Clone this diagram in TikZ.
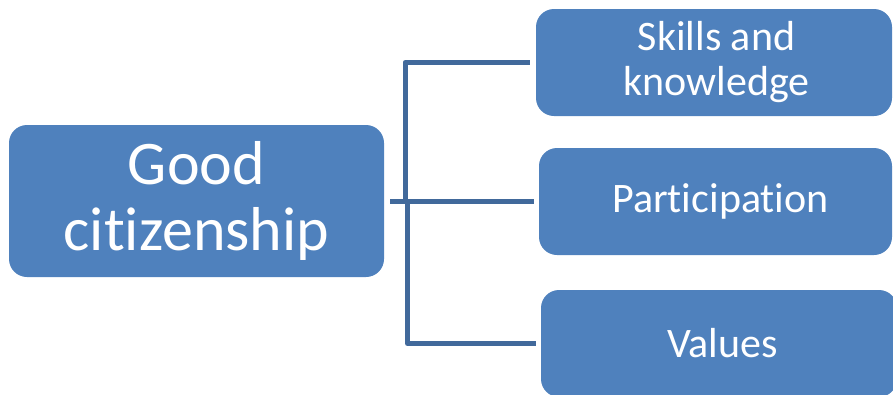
\documentclass[tikz,border=0pt]{standalone}
\usepackage{fontspec}
\setmainfont[RawFeature={-liga;-dlig;-calt}]{Carlito}
\definecolor{boxblue}{HTML}{4F81BD}
\definecolor{lineblue}{HTML}{41699B}
\begin{document}
\begin{tikzpicture}[x=1pt,y=-1pt,
  box/.style={fill=boxblue, rounded corners=18pt, inner sep=0pt, text=white, align=center},
  small/.style={font=\fontsize{42}{45}\selectfont},
  conn/.style={draw=lineblue, line width=5pt, line join=round}]
\useasboundingbox (0,0) rectangle (893,394);
\begin{scope}
\clip (0,0) rectangle (893,394);
\node[box, minimum width=375pt, minimum height=152pt, font=\fontsize{62}{66}\selectfont] (good) at (196.5,201) {Good\\citizenship};
\node[box, minimum width=356pt, minimum height=107pt, label={[small, text=white, align=center, xshift=2.5pt]center:Skills and\\knowledge}] (skills) at (714,62.5) {};
\node[box, minimum width=353pt, minimum height=107pt, label={[small, text=white, xshift=5pt]center:Participation}] (part) at (715.5,201.5) {};
\node[box, minimum width=356pt, minimum height=107pt, label={[small, text=white, xshift=3.5pt]center:Values}] (values) at (719,343.5) {};
\end{scope}
\coordinate (ju) at (405,201);
\coordinate (jl) at (407.5,201);
\draw[conn, shorten <=6pt, shorten >=5pt] (good.east) -- (good.east -| part.west);
\draw[conn, shorten <=6pt] (skills.west) -| (ju);
\draw[conn, shorten <=5pt] (values.west) -| (jl);
\end{tikzpicture}
\end{document}
